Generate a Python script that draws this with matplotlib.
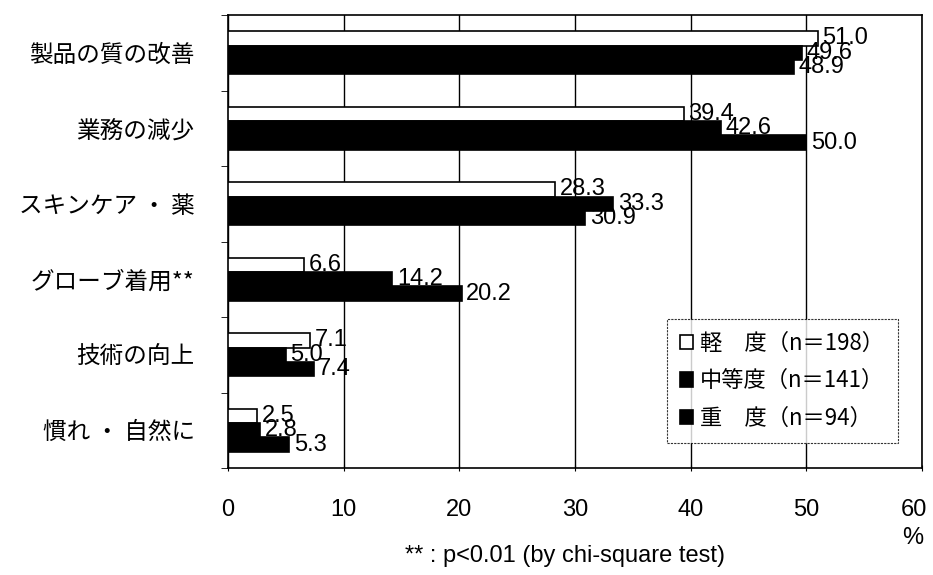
import numpy as np
import matplotlib
matplotlib.use("Agg")
import matplotlib.pyplot as plt
from matplotlib.transforms import ScaledTranslation

plt.rcParams['font.family'] = ['Noto Sans CJK JP', 'DejaVu Sans']

# data
categories = ['製品の質の改善', '業務の減少', 'スキンケア ・ 薬', 'グローブ着用**', '技術の向上', '慣れ ・ 自然に']
mild = [51.0, 39.4, 28.3, 6.6, 7.1, 2.5]
moderate = [49.6, 42.6, 33.3, 14.2, 5.0, 2.8]
severe = [48.9, 50.0, 30.9, 20.2, 7.4, 5.3]
series_labels = ['軽　度（n＝198）', '中等度（n＝141）', '重　度（n＝94）']
xticks = [0, 10, 20, 30, 40, 50, 60]

num_font = ['Liberation Sans', 'DejaVu Sans']

fig = plt.figure(figsize=(9.33, 5.75), dpi=100)
ax = fig.add_axes([228 / 933, 1 - 468 / 575, 694 / 933, 453 / 575])

y = np.arange(len(categories))
h = 0.19
series = [mild, moderate, severe]
faces = ['white', 'black', 'black']
offsets = [-h, 0, h]
for vals, fc, off, lab in zip(series, faces, offsets, series_labels):
    ax.barh(y + off, vals, height=h, color=fc, edgecolor='black',
            linewidth=1.2, label=lab, zorder=3)
    for yy, v in zip(y + off, vals):
        ax.text(v + 0.4, yy, f'{v:.1f}', va='center', ha='left',
                fontsize=17, family=num_font, zorder=4)

ax.set_xlim(0, 60)
ax.set_ylim(len(categories) - 0.5, -0.5)
ax.set_xticks(xticks)
ax.set_xticklabels([str(t) for t in xticks], fontsize=17, family=num_font)
ax.set_yticks(y)
ax.set_yticklabels(categories, fontsize=17)
ax.tick_params(axis='y', length=0, pad=24)
ax.set_yticks(np.arange(len(categories) + 1) - 0.5, minor=True)
ax.tick_params(axis='y', which='minor', length=5, direction='out')
ax.tick_params(axis='x', length=5, direction='inout', pad=20)
ax.grid(axis='x', color='black', linewidth=1.0, zorder=0)
for s in ax.spines.values():
    s.set_linewidth(1.2)

# keep "60" inside the picture
last = ax.get_xticklabels()[-1]
last.set_transform(last.get_transform() + ScaledTranslation(-8 / 100, 0, fig.dpi_scale_trans))

leg = ax.legend(loc='lower right', bbox_to_anchor=(0.965, 0.055), fontsize=16,
                frameon=True, fancybox=False, edgecolor='black',
                handlelength=0.6, handleheight=0.6, handletextpad=0.3,
                labelspacing=0.65, borderpad=0.6, borderaxespad=0)
leg.get_frame().set_linewidth(0.8)
leg.get_frame().set_linestyle((0, (2, 1)))

fig.text(913 / 933, 1 - 538 / 575, '%', ha='center', va='center', fontsize=17, family=num_font)
fig.text(565 / 933, 1 - 556 / 575, '** : p<0.01 (by chi-square test)', ha='center', va='center',
         fontsize=17, family=num_font)

fig.savefig('out.png', dpi=100)
